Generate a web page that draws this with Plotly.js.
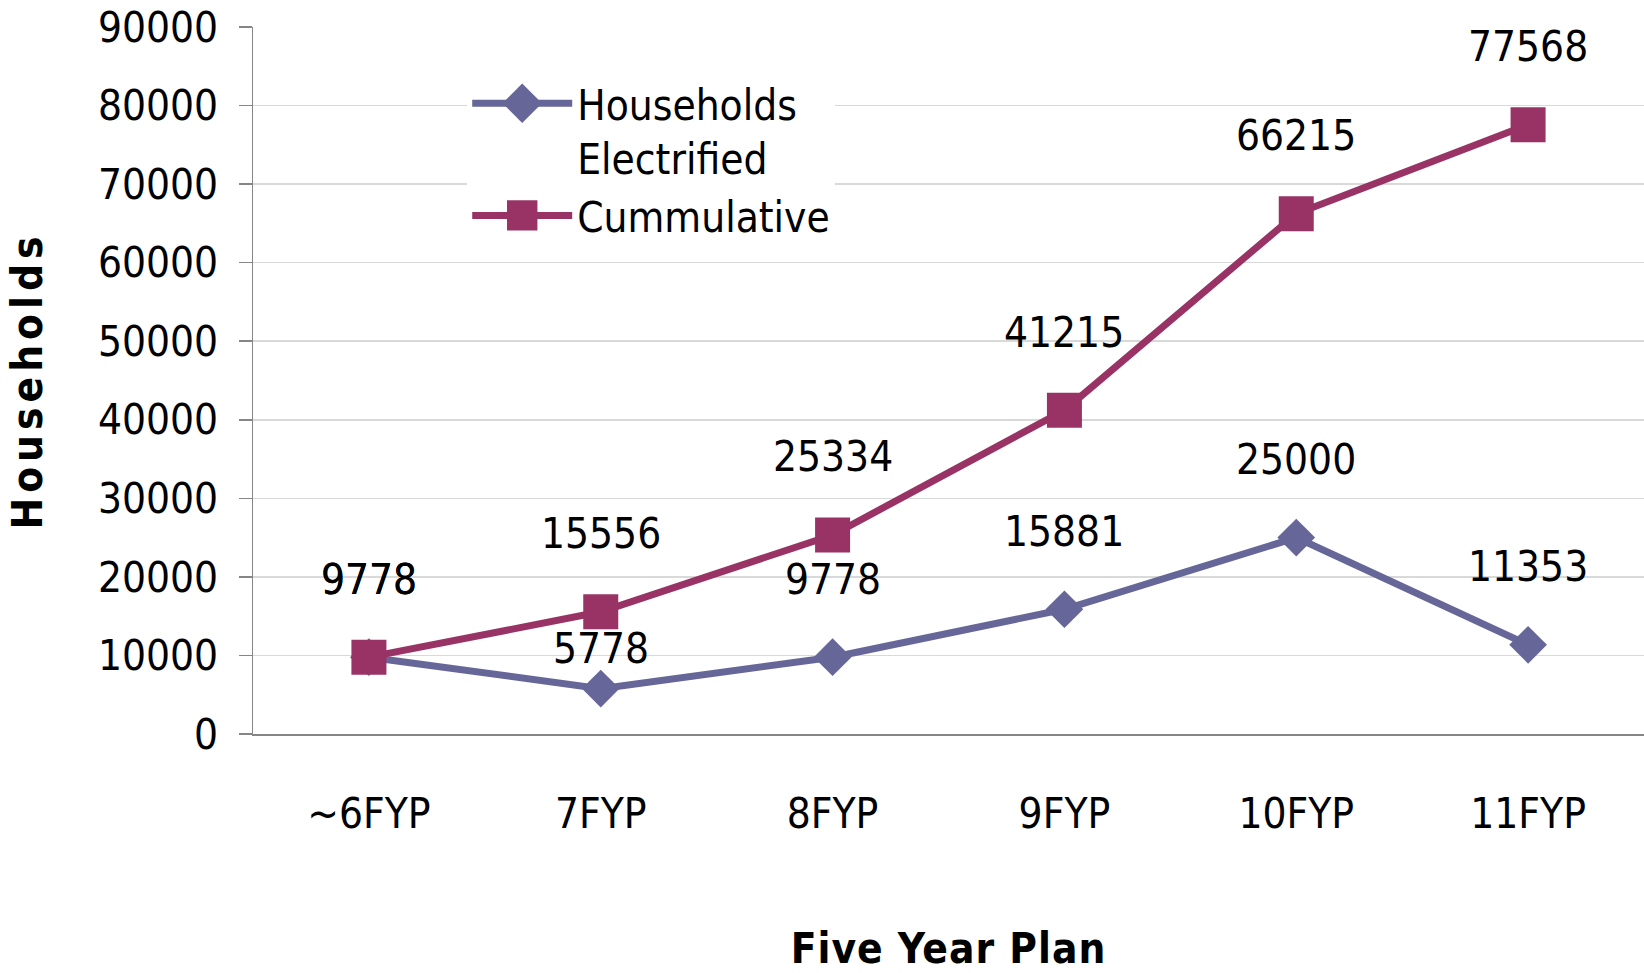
<!DOCTYPE html>
<html>
<head>
<meta charset="utf-8">
<script src="https://cdn.plot.ly/plotly-3.0.1.min.js"></script>
<style>
  html, body { margin: 0; padding: 0; background: #ffffff; }
  #chart { width: 1644px; height: 973px; }
  .ytitle { letter-spacing: 5px; }
  .xtitle { letter-spacing: 1px; }
</style>
</head>
<body>
<div id="chart"></div>
<script>
// ---- data ----
const categories = ["~6FYP", "7FYP", "8FYP", "9FYP", "10FYP", "11FYP"];
const householdsElectrified = [9778, 5778, 9778, 15881, 25000, 11353];
const cumulative = [9778, 15556, 25334, 41215, 66215, 77568];
const seriesNames = ["Households<br>Electrified", "Cummulative"];
const yTicks = [0, 10000, 20000, 30000, 40000, 50000, 60000, 70000, 80000, 90000];

// ---- styling ----
const FONT = '"DejaVu Sans Condensed", "Liberation Sans Narrow", sans-serif';
const FS = 42;
const colHH = '#666699';
const colCum = '#993366';
const labelShiftHH = [78, 40, 78, 78, 78, 78];
const labelShiftCum = [78, 78, 78, 78, 78, 78];

const traces = [
  {
    type: 'scatter', mode: 'lines+markers', name: seriesNames[0],
    x: categories, y: householdsElectrified,
    line: { color: colHH, width: 7 },
    marker: { symbol: 'diamond', size: 29, color: colHH }
  },
  {
    type: 'scatter', mode: 'lines+markers', name: seriesNames[1],
    x: categories, y: cumulative,
    line: { color: colCum, width: 7 },
    marker: { symbol: 'square', size: 35, color: colCum }
  }
];

const annotations = [];
householdsElectrified.forEach((v, i) => annotations.push({
  x: categories[i], y: v, xref: 'x', yref: 'y', text: String(v), showarrow: false,
  yshift: labelShiftHH[i], font: { family: FONT, size: FS, color: '#000' }
}));
cumulative.forEach((v, i) => annotations.push({
  x: categories[i], y: v, xref: 'x', yref: 'y', text: String(v), showarrow: false,
  yshift: labelShiftCum[i], font: { family: FONT, size: FS, color: '#000' }
}));

const layout = {
  width: 1644, height: 973,
  margin: { l: 253, r: 0, t: 27, b: 239 },
  paper_bgcolor: '#ffffff', plot_bgcolor: '#ffffff',
  font: { family: FONT, size: FS, color: '#000' },
  showlegend: true,
  legend: {
    x: 0.154, y: 0.94, xanchor: 'left', yanchor: 'top',
    bgcolor: '#ffffff', borderwidth: 0,
    font: { family: FONT, size: FS, color: '#000' },
    valign: 'top', itemwidth: 100, tracegroupgap: 0
  },
  xaxis: {
    type: 'category', range: [-0.5, 5.5],
    showgrid: false, zeroline: false,
    showline: true, linecolor: '#868686', linewidth: 1.5,
    ticks: '', ticklabelstandoff: 42,
    tickfont: { family: FONT, size: FS, color: '#000' },
    title: { text: 'Five Year Plan', font: { family: FONT, size: FS, color: '#000', weight: 'bold' }, standoff: 98 }
  },
  yaxis: {
    range: [0, 90000], tickvals: yTicks, tickformat: 'd',
    showgrid: true, gridcolor: '#d9d9d9', gridwidth: 1.5,
    zeroline: false,
    showline: true, linecolor: '#868686', linewidth: 1.5,
    ticks: 'outside', ticklen: 13, tickcolor: '#868686', tickwidth: 1.5,
    ticklabelstandoff: 12,
    tickfont: { family: FONT, size: FS, color: '#000' },
    title: { text: 'Households', font: { family: FONT, size: FS, color: '#000', weight: 'bold' }, standoff: 42 }
  },
  annotations: annotations
};

Plotly.newPlot('chart', traces, layout, { displayModeBar: false, staticPlot: true }).then(gd => {
  // enlarge legend marker glyphs (legend caps symbol size)
  gd.querySelectorAll('.legend .legendpoints path.scatterpts').forEach(p => {
    const t = p.getAttribute('transform') || '';
    p.setAttribute('transform', t + ' scale(1.9)');
  });
  gd.querySelectorAll('.legend .legendlines path').forEach(p => {
    p.style.strokeWidth = '7px';
  });
});
</script>
</body>
</html>
